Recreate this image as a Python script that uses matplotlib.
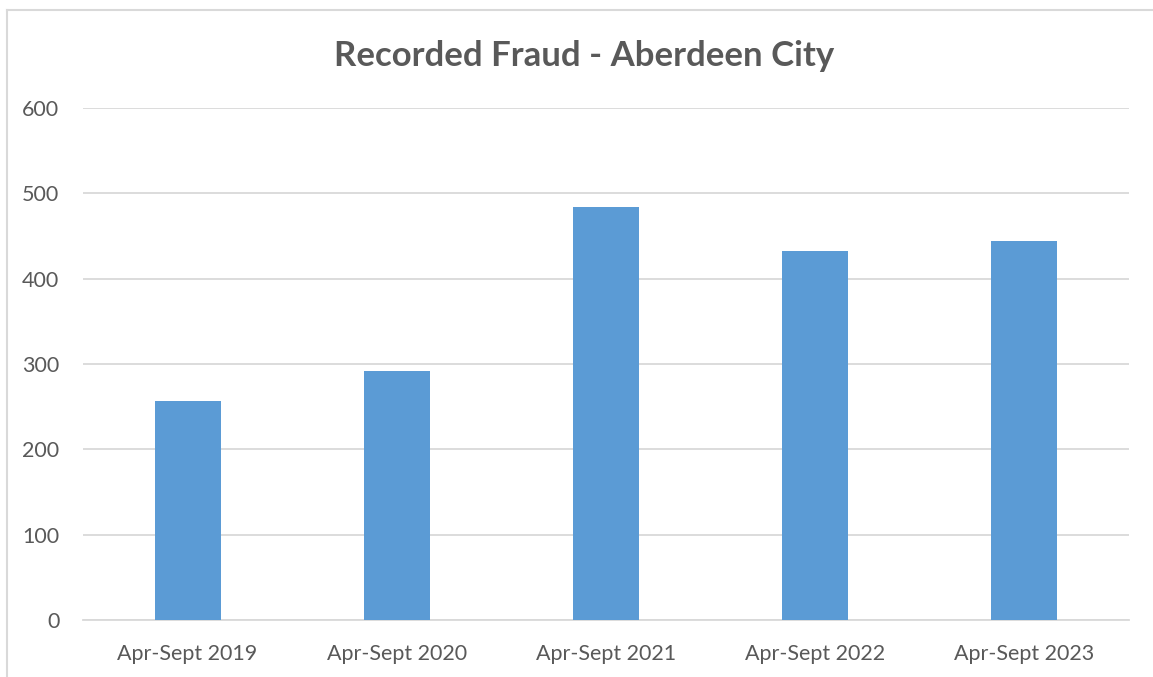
import matplotlib
matplotlib.use("Agg")
from matplotlib import pyplot as plt
from matplotlib.lines import Line2D

periods = ["Apr-Sept 2019", "Apr-Sept 2020", "Apr-Sept 2021", "Apr-Sept 2022", "Apr-Sept 2023"]
fraud_counts = [257, 292, 484, 432, 444]
y_ticks = [0, 100, 200, 300, 400, 500, 600]

text_grey = "#595959"
grid_grey = "#D9D9D9"
bar_blue = "#5B9BD5"

plt.rcParams["font.family"] = ["Lato", "DejaVu Sans"]

fig = plt.figure(figsize=(11.53, 6.77), dpi=100)
ax = fig.add_axes([0.072, 0.0842, 0.907, 0.7563])

x = list(range(len(periods)))
ax.bar(x, fraud_counts, width=0.315, color=bar_blue, zorder=3)

ax.set_xlim(-0.5, len(periods) - 0.5)
ax.set_ylim(0, 600)
ax.set_yticks(y_ticks)
ax.set_xticks(x)
ax.set_xticklabels(periods)
ax.grid(axis="y", color=grid_grey, linewidth=1.3, zorder=0)
ax.tick_params(axis="both", length=0, labelsize=15.5, colors=text_grey)
ax.tick_params(axis="x", pad=17)
ax.tick_params(axis="y", pad=17)
for side in ["top", "right", "left"]:
    ax.spines[side].set_visible(False)
ax.spines["bottom"].set_color(grid_grey)
ax.spines["bottom"].set_linewidth(1.3)

fig.text(0.507, 0.918, "Recorded Fraud - Aberdeen City", ha="center", va="center",
         fontsize=25, fontweight="bold", color=text_grey)

# chart frame (only left and top edges visible in the crop)
fig.add_artist(Line2D([7 / 1153, 7 / 1153], [0, 1 - 10 / 677], transform=fig.transFigure,
                      color=grid_grey, linewidth=1.5))
fig.add_artist(Line2D([7 / 1153, 1], [1 - 10 / 677, 1 - 10 / 677], transform=fig.transFigure,
                      color=grid_grey, linewidth=1.5))

fig.savefig("out.png", dpi=100)
